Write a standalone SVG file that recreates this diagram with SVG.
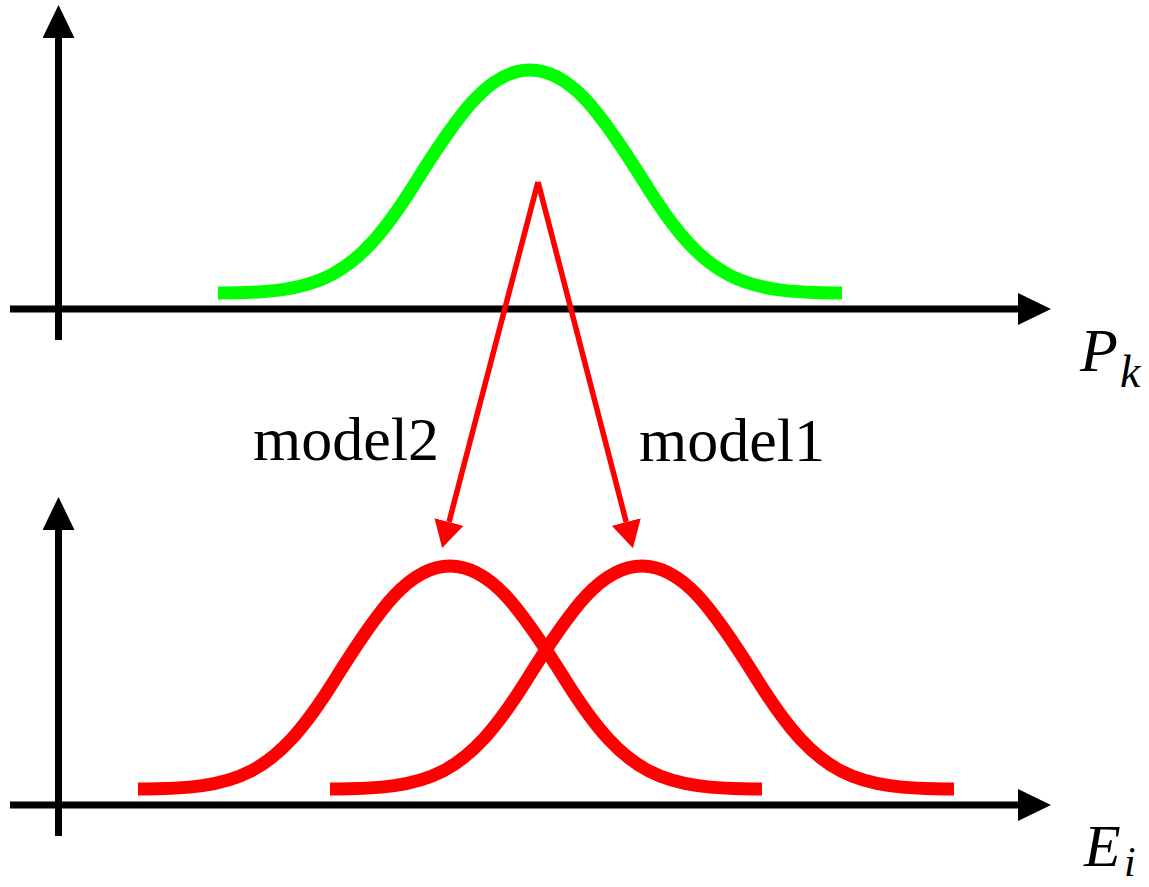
<svg xmlns="http://www.w3.org/2000/svg" width="1149" height="887" viewBox="0 0 1149 887">
<style>
.axis{stroke:#000;stroke-width:7;fill:none}
.curve{fill:none;stroke-width:13;stroke-linecap:butt}
.green{stroke:#00ff00}
.red{stroke:#ff0000}
.conn{stroke:#ff0000;stroke-width:5.5;fill:none}
.lbl{font-family:"Liberation Serif","Times New Roman",serif;font-size:62px;fill:#000}
.ax{font-family:"Liberation Serif","Times New Roman",serif;font-style:italic;fill:#000}
</style>
<defs>
<marker id="ah" markerUnits="userSpaceOnUse" viewBox="0 0 33 32" markerWidth="33" markerHeight="32" refX="0" refY="16" orient="auto">
<path d="M0,0 L33,16 L0,32 z" fill="#000"/>
</marker>
<marker id="rh" markerUnits="userSpaceOnUse" viewBox="0 0 27 30" markerWidth="27" markerHeight="30" refX="0" refY="15" orient="auto">
<path d="M0,0 L27,15 L0,30 z" fill="#ff0000"/>
</marker>
<path id="bell" d="M218,293 C318,293 354,281 414,185 C460,111 490,70 530,70 C570,70 600,111 646,185 C706,281 742,293 842,293"/>
</defs>
<g id="axes-top">
<line class="axis" x1="58.5" y1="340" x2="58.5" y2="38" marker-end="url(#ah)"/>
<line class="axis" x1="10" y1="309" x2="1018" y2="309" marker-end="url(#ah)"/>
<text class="ax" x="1080" y="371" font-size="62">P</text>
<text class="ax" x="1120" y="387" font-size="46">k</text>
</g>
<g id="axes-bottom">
<line class="axis" x1="58.5" y1="836" x2="58.5" y2="530" marker-end="url(#ah)"/>
<line class="axis" x1="10" y1="805" x2="1018" y2="805" marker-end="url(#ah)"/>
<text class="ax" x="1084" y="866" font-size="60">E</text>
<text class="ax" x="1124" y="876" font-size="42">i</text>
</g>
<g id="curve-pk">
<use href="#bell" class="curve green"/>
</g>
<g id="curve-model2">
<use href="#bell" class="curve red" transform="translate(-80,496)"/>
</g>
<g id="curve-model1">
<use href="#bell" class="curve red" transform="translate(112,496)"/>
</g>
<g id="connectors">
<line class="conn" x1="538" y1="182" x2="449" y2="522" marker-end="url(#rh)"/>
<line class="conn" x1="538" y1="182" x2="626.2" y2="522" marker-end="url(#rh)"/>
</g>
<g id="label-model2">
<text class="lbl" x="253" y="460">model2</text>
</g>
<g id="label-model1">
<text class="lbl" x="639" y="461">model1</text>
</g>
</svg>
